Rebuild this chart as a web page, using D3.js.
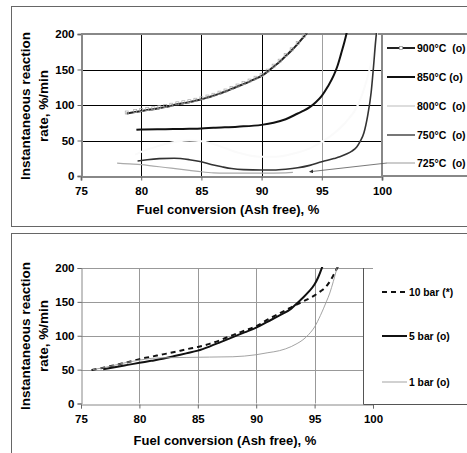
<!DOCTYPE html>
<html>
<head>
<meta charset="utf-8">
<script src="https://cdn.jsdelivr.net/npm/d3@7"></script>
<style>
  body { margin: 0; background: #fff; }
  svg { display: block; font-family: Arial, "Liberation Sans", sans-serif; }
</style>
</head>
<body>
<div id="chart"></div>
<script>
// axis ticks
var xTicks = [75, 80, 85, 90, 95, 100];
var yTicks = [0, 50, 100, 150, 200];

// top panel: temperature series, [conversion %, rate %/min]
var t900 = [[78.8,88],[79.5,90],[80,91.5],[80.5,93],[81,94],[81.5,95.5],[82,97],[82.5,99],[83,101],
  [83.5,102.5],[84,104],[84.5,106],[85,108],[85.5,110.5],[86,113],[86.5,116],[87,119],[87.5,122.5],
  [88,126],[88.5,129.5],[89,133],[89.5,137],[90,141],[90.5,147],[91,154],[91.5,161],[92,169],
  [92.5,177],[93,186],[93.5,196],[93.8,202]];
var t850 = [[79.6,65],[80,65.5],[82,66],[84,66.5],[85,67],[86,68],[88,69.5],[90,72],[91,75],[92,80],
  [93,88],[93.5,92],[94,97],[94.5,104],[95,113],[95.5,126],[96,142],[96.3,155],[96.6,172],[96.9,190],[97.1,204]];
var t800 = [[79.5,30],[80,34],[81,40],[82,45],[83,48.5],[84,50],[85,49],[86,45],[87,39],[88,33],[89,29],
  [90,27],[91,27],[92,29],[93,33],[94,39],[95,48],[96,60],[97,76],[98,100],[98.5,122],[99,152],[99.3,175],[99.6,202]];
var t750 = [[79.7,21],[80.5,23],[81.5,24.5],[82.75,25],[84,23],[85,20],[86,15.5],[86.7,13],[87.5,10.5],
  [88.5,9],[90,8.5],[91,8.5],[92,9.5],[93,11.5],[94,15],[95,20],[96,24.5],[96.5,27],[97,30.5],[97.5,35],
  [97.9,41],[98.2,49],[98.5,61],[98.8,84],[99.1,118],[99.3,155],[99.5,195],[99.6,210]];
var t725 = [[78,18],[79,17],[80,16],[81,14],[82,12],[83,10],[84,8],[85,6],[86,4.5],[87,4],[88,4],[90,4],[92,4.5],[92.6,5]];
var tempLabels = ["900°C  (o)", "850°C (o)", "800°C  (o)", "750°C  (o)", "725°C  (o)"];
var arrowTip = [94, 6];

// bottom panel: pressure series
var b10 = [[75.9,49.5],[77,53],[78,57],[79,61],[80,65.5],[81,69],[82,72.5],[83,76],[84,80],[85,83.5],[86,88],
  [87,94],[88,101],[89,107.5],[90,114],[91,124],[92,133],[93,142],[94,150.5],[95,159.5],[95.5,165.5],
  [96,173],[96.3,180],[96.6,189],[96.9,199],[97.1,206]];
var b5 = [[76.9,50.5],[78,54],[79,57],[80,60],[81,63],[82,66],[83,70],[84,74],[85,78],[86,84],[87,91],[88,98],
  [89,105],[90,112],[91,121],[92,130],[93,140],[93.5,148],[94,156],[94.5,165],[95,176],[95.3,186],[95.6,199],[95.8,209]];
var b1 = [[76,50],[77,53],[78,57],[79,61],[80,64],[81,66.5],[82,67.5],[84,68],[86,68.5],[88,69],[90,72],[91,75],
  [92,78],[93,84],[93.5,88.5],[94,94],[94.5,102],[95,113],[95.5,130],[96,150],[96.3,163],[96.6,180],[96.9,199],[97.1,212]];
var pressLabels = ["10 bar (*)", "5 bar (o)", "1 bar (o)"];

var w = 467, h = 453;
var svg = d3.select("#chart").append("svg").attr("width", w).attr("height", h);

function drawPanel(p) {
  var g = svg.append("g");
  var xScale = d3.scaleLinear().domain([75, 100]).range([p.left, p.right]);
  var yScale = d3.scaleLinear().domain([0, 200]).range([p.bottom, p.top]);

  // outer frame
  g.append("rect").attr("x", p.frame[0] + 0.5).attr("y", p.frame[1] + 0.5)
    .attr("width", p.frame[2]).attr("height", p.frame[3])
    .attr("fill", "#fff").attr("stroke", "#666").attr("stroke-width", 1);

  // grid
  g.selectAll(".hgrid").data(yTicks.filter(function(d) { return d > 0; })).enter().append("line")
    .attr("x1", p.left).attr("x2", p.gridRight)
    .attr("y1", function(d) { return Math.round(yScale(d)) + 0.5; })
    .attr("y2", function(d) { return Math.round(yScale(d)) + 0.5; })
    .attr("stroke", p.gridColor).attr("stroke-width", 1);
  g.selectAll(".vgrid").data(xTicks.filter(function(d) { return d > 75 && d < 100; })).enter().append("line")
    .attr("x1", function(d) { return Math.round(xScale(d)) + 0.5; })
    .attr("x2", function(d) { return Math.round(xScale(d)) + 0.5; })
    .attr("y1", p.top).attr("y2", p.bottom)
    .attr("stroke", function(d) { return d === 95 && p.gray95 ? "#a0a0a0" : p.gridColor; })
    .attr("stroke-width", 1);

  // axes
  var yAxis = g.append("g").attr("transform", "translate(" + (p.left + 0.5) + ",0)")
    .call(d3.axisLeft(yScale).tickValues(yTicks).tickSize(4).tickPadding(3));
  var xAxis = g.append("g").attr("transform", "translate(0," + (Math.round(p.bottom) + 0.5) + ")")
    .call(d3.axisBottom(xScale).tickValues(xTicks).tickSize(4).tickPadding(6));
  [xAxis, yAxis].forEach(function(a) {
    a.select(".domain").attr("stroke", p.axisColor).attr("stroke-width", p.axisWidth);
    a.selectAll(".tick line").attr("stroke", "#666");
    a.selectAll("text").attr("font-size", "11.5px").attr("font-weight", "bold")
      .attr("font-family", "Arial, 'Liberation Sans', sans-serif").attr("fill", "#000");
  });
  if (p.frameTop) {
    g.append("line").attr("x1", p.left).attr("x2", p.right).attr("y1", p.top).attr("y2", p.top)
      .attr("stroke", p.axisColor).attr("stroke-width", p.axisWidth);
  }

  // series
  var clipId = "clip" + p.id;
  g.append("clipPath").attr("id", clipId).append("rect")
    .attr("x", p.left).attr("y", p.top - 1).attr("width", p.right - p.left).attr("height", p.bottom - p.top + 1);
  var line = d3.line().curve(d3.curveMonotoneX)
    .x(function(d) { return xScale(d[0]); })
    .y(function(d) { return yScale(d[1]); });
  var plot = g.append("g").attr("clip-path", "url(#" + clipId + ")");
  p.series.forEach(function(s) {
    plot.append("path").datum(s.data)
      .attr("fill", "none").attr("stroke", s.color).attr("stroke-width", s.width)
      .attr("stroke-dasharray", s.dash || null).attr("d", line);
    if (s.marker) {
      plot.selectAll(".m" + s.name).data(s.data).enter().append("rect")
        .attr("x", function(d) { return xScale(d[0]) - 1.5; })
        .attr("y", function(d) { return yScale(d[1]) - 2.5; })
        .attr("width", 3).attr("height", 3)
        .attr("fill", "none").attr("stroke", "#aaa").attr("stroke-width", 0.7);
    }
  });

  // legend box
  var lg = g.append("g");
  if (p.legendFull) {
    lg.append("rect").attr("x", p.right).attr("y", p.top).attr("width", w - p.right + 5)
      .attr("height", p.bottom - p.top).attr("fill", "#fff")
      .attr("stroke", p.axisColor).attr("stroke-width", p.axisWidth);
  } else {
    lg.append("rect").attr("x", p.legendLeft + 1).attr("y", p.top + 1).attr("width", w - p.legendLeft)
      .attr("height", p.bottom - p.top - 1).attr("fill", "#fff");
    lg.append("path")
      .attr("d", "M" + (p.legendLeft + 0.5) + "," + p.top + "V" + (Math.round(p.bottom) + 0.5) + "H" + (w + 2))
      .attr("fill", "none").attr("stroke", "#555").attr("stroke-width", 1);
  }
  p.series.forEach(function(s, i) {
    var ly = p.legendRows[i];
    lg.append("line").attr("x1", p.legendX).attr("x2", p.legendX + p.legendLen)
      .attr("y1", ly).attr("y2", ly)
      .attr("stroke", s.legendColor || s.color).attr("stroke-width", s.width)
      .attr("stroke-dasharray", s.dash || null);
    if (s.marker) {
      lg.append("rect").attr("x", p.legendX + p.legendLen / 2 - 1.5).attr("y", ly - 1.5)
        .attr("width", 3).attr("height", 3).attr("fill", "#fff").attr("stroke", "#999").attr("stroke-width", 0.8);
    }
    lg.append("text").text(s.label)
      .attr("x", p.legendX + p.legendLen + 2).attr("y", ly).attr("dy", "0.35em")
      .attr("font-size", p.legendFont).attr("font-weight", "bold").attr("fill", "#000")
      .style("white-space", "pre");
  });

  // labels
  g.append("text").text("Fuel conversion (Ash free), %")
    .attr("x", p.xLabel[0]).attr("y", p.xLabel[1])
    .attr("text-anchor", "middle").attr("font-size", "13px").attr("font-weight", "bold");
  g.append("text").text("Instantaneous reaction")
    .attr("transform", "translate(" + p.yLabel[0] + "," + p.yLabel[2] + ") rotate(-90)")
    .attr("dy", "0.35em").attr("text-anchor", "middle").attr("font-size", "13.5px").attr("font-weight", "bold");
  g.append("text").text("rate, %/min")
    .attr("transform", "translate(" + p.yLabel[1] + "," + p.yLabel[2] + ") rotate(-90)")
    .attr("dy", "0.35em").attr("text-anchor", "middle").attr("font-size", "13.5px").attr("font-weight", "bold");

  return { x: xScale, y: yScale, g: g };
}

// top chart
var topPanel = drawPanel({
  id: "a", frame: [11, 6, 470, 220],
  left: 81, right: 382, top: 34, bottom: 176, gridRight: 382,
  gridColor: "#000", gray95: true, axisColor: "#888", axisWidth: 2, frameTop: true,
  legendFull: true, legendX: 387, legendLen: 28, legendRows: [48, 77, 106, 135, 163], legendFont: "10.5px",
  xLabel: [228, 214], yLabel: [25, 43, 106],
  series: [
    { name: "900", data: t900, color: "#222", width: 2, marker: true, label: tempLabels[0] },
    { name: "850", data: t850, color: "#111", width: 2, label: tempLabels[1] },
    { name: "800", data: t800, color: "#fafafa", width: 2, legendColor: "#ddd", dash: null, label: tempLabels[2] },
    { name: "750", data: t750, color: "#333", width: 1.6, legendColor: "#555", label: tempLabels[3] },
    { name: "725", data: t725, color: "#aaa", width: 1.2, label: tempLabels[4] }
  ]
});

// annotation arrow from 725°C legend entry
topPanel.g.append("defs").append("marker").attr("id", "arr").attr("viewBox", "0 0 6 6")
  .attr("refX", 5).attr("refY", 3).attr("markerWidth", 5).attr("markerHeight", 5).attr("orient", "auto")
  .append("path").attr("d", "M0,0L6,3L0,6Z").attr("fill", "#333");
topPanel.g.append("line")
  .attr("x1", 387).attr("y1", 163)
  .attr("x2", topPanel.x(arrowTip[0])).attr("y2", topPanel.y(arrowTip[1]))
  .attr("stroke", "#555").attr("stroke-width", 0.8).attr("marker-end", "url(#arr)");

// bottom chart
drawPanel({
  id: "b", frame: [11, 233, 470, 230],
  left: 81, right: 373, top: 268, bottom: 403.5, gridRight: 373,
  gridColor: "#999", gray95: false, axisColor: "#888", axisWidth: 1, frameTop: false,
  legendFull: false, legendLeft: 363, legendX: 382, legendLen: 25, legendRows: [292, 336, 382], legendFont: "10.3px",
  xLabel: [225, 445], yLabel: [25, 43, 336],
  series: [
    { name: "10", data: b10, color: "#111", width: 2, dash: "5,4", label: pressLabels[0] },
    { name: "5", data: b5, color: "#111", width: 2, label: pressLabels[1] },
    { name: "1", data: b1, color: "#999", width: 0.9, label: pressLabels[2] }
  ]
});
</script>
</body>
</html>
